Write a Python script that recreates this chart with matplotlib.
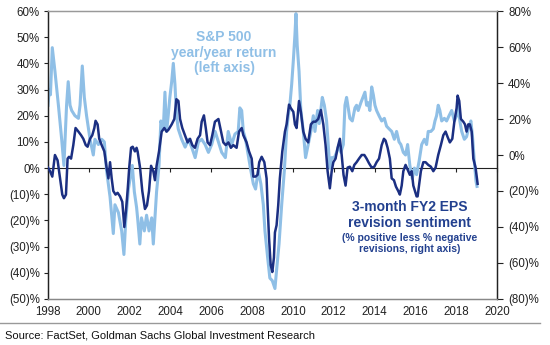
import numpy as np
import matplotlib
matplotlib.use('Agg')
import matplotlib.pyplot as plt
from matplotlib.ticker import FuncFormatter

plt.rcParams['font.family'] = ['Liberation Sans', 'DejaVu Sans']

# S&P 500 year/year return, left axis (%)
sp_years = [1998.00, 1998.06, 1998.12, 1998.21, 1998.34, 1998.51, 1998.67, 1998.78, 1998.91, 1998.99,
            1999.08, 1999.16, 1999.32, 1999.49, 1999.57, 1999.68, 1999.78, 1999.89, 2000.06, 2000.22,
            2000.30, 2000.47, 2000.63, 2000.76, 2000.87, 2001.04, 2001.20, 2001.28, 2001.45, 2001.61,
            2001.72, 2001.81, 2001.94, 2002.13, 2002.23, 2002.34, 2002.39, 2002.50, 2002.58, 2002.72,
            2002.83, 2002.95, 2003.08, 2003.16, 2003.24, 2003.32, 2003.44, 2003.53, 2003.65, 2003.73,
            2003.81, 2003.89, 2003.97, 2004.06, 2004.14, 2004.22, 2004.30, 2004.38, 2004.55, 2004.72,
            2004.88, 2005.04, 2005.21, 2005.37, 2005.53, 2005.70, 2005.86, 2006.02, 2006.19, 2006.35,
            2006.51, 2006.69, 2006.83, 2007.00, 2007.16, 2007.32, 2007.40, 2007.49, 2007.57, 2007.68,
            2007.81, 2007.94, 2008.06, 2008.17, 2008.30, 2008.43, 2008.55, 2008.63, 2008.76, 2008.87,
            2008.99, 2009.12, 2009.20, 2009.32, 2009.45, 2009.58, 2009.69, 2009.77, 2009.85, 2009.94,
            2010.02, 2010.10, 2010.15, 2010.21, 2010.30, 2010.39, 2010.51, 2010.62, 2010.75, 2010.88,
            2011.00, 2011.08, 2011.21, 2011.29, 2011.44, 2011.54, 2011.65, 2011.73, 2011.81, 2011.90,
            2012.03, 2012.14, 2012.26, 2012.35, 2012.47, 2012.55, 2012.63, 2012.71, 2012.79, 2012.91,
            2013.04, 2013.12, 2013.20, 2013.33, 2013.53, 2013.61, 2013.69, 2013.77, 2013.86, 2013.94,
            2014.02, 2014.10, 2014.22, 2014.35, 2014.48, 2014.59, 2014.71, 2014.84, 2014.97, 2015.08,
            2015.20, 2015.29, 2015.41, 2015.52, 2015.62, 2015.73, 2015.85, 2015.95, 2016.06, 2016.18,
            2016.31, 2016.44, 2016.55, 2016.63, 2016.76, 2016.88, 2016.96, 2017.04, 2017.12, 2017.20,
            2017.29, 2017.42, 2017.53, 2017.65, 2017.78, 2017.91, 2018.02, 2018.10, 2018.18, 2018.27,
            2018.40, 2018.51, 2018.63, 2018.72, 2018.80, 2018.89, 2018.97, 2019.02]
sp_values = [24, 30, 28, 46, 37, 24, 11, 1, 24, 33,
             24, 22, 20, 19, 24, 39, 27, 20, 11, 5,
             11, 9, 11, 10, -1, -11, -25, -14, -17, -24,
             -33, -20, -8, 1, -9, -15, -19, -29, -19, -24,
             -18, -24, -19, -29, -19, -9, 1, 18, 15, 29,
             14, 20, 27, 33, 40, 32, 20, 15, 11, 8,
             11, 8, 4, 10, 11, 9, 6, 9, 14, 10,
             6, 4, 14, 9, 13, 14, 23, 22, 14, 11,
             5, -1, -6, -8, -1, -6, -14, -24, -34, -42,
             -43, -46, -39, -29, -14, -1, 14, 20, 24, 32,
             41, 51, 59, 47, 37, 22, 14, 4, 9, 14,
             20, 14, 22, 17, 27, 24, 18, 9, 0, 4,
             4, 6, 9, 6, 9, 24, 27, 23, 19, 18,
             23, 24, 22, 25, 29, 24, 25, 22, 31, 28,
             24, 22, 20, 18, 19, 16, 15, 14, 11, 14,
             10, 9, 6, 5, 9, 1, -4, 0, -2.5, 2.5,
             9, 11, 9, 14, 14, 15, 18, 20, 24, 22,
             18, 19, 18, 20, 22, 18, 20, 24, 18, 14,
             11, 12, 16, 18, 12, 2.5, -5, -7]

# 3-month FY2 EPS revision sentiment, right axis (%)
eps_years = [1998.00, 1998.10, 1998.21, 1998.34, 1998.47, 1998.59, 1998.70, 1998.78, 1998.88, 1998.96,
             1999.03, 1999.13, 1999.24, 1999.35, 1999.49, 1999.62, 1999.73, 1999.85, 1999.94, 2000.06,
             2000.17, 2000.27, 2000.33, 2000.43, 2000.51, 2000.63, 2000.76, 2000.87, 2000.96, 2001.04,
             2001.12, 2001.20, 2001.31, 2001.41, 2001.53, 2001.64, 2001.74, 2001.82, 2001.90, 2001.98,
             2002.07, 2002.15, 2002.26, 2002.34, 2002.39, 2002.51, 2002.62, 2002.75, 2002.85, 2002.95,
             2003.05, 2003.16, 2003.24, 2003.32, 2003.44, 2003.57, 2003.70, 2003.81, 2003.90, 2004.06,
             2004.19, 2004.29, 2004.39, 2004.47, 2004.58, 2004.71, 2004.84, 2004.96, 2005.07, 2005.20,
             2005.33, 2005.45, 2005.53, 2005.64, 2005.73, 2005.82, 2005.94, 2006.05, 2006.18, 2006.35,
             2006.48, 2006.59, 2006.71, 2006.84, 2006.96, 2007.08, 2007.24, 2007.36, 2007.49, 2007.57,
             2007.73, 2007.85, 2007.98, 2008.06, 2008.17, 2008.27, 2008.35, 2008.47, 2008.60, 2008.71,
             2008.76, 2008.83, 2008.91, 2008.99, 2009.07, 2009.12, 2009.20, 2009.28, 2009.36, 2009.48,
             2009.61, 2009.69, 2009.81, 2009.90, 2010.02, 2010.10, 2010.18, 2010.30, 2010.39, 2010.51,
             2010.62, 2010.75, 2010.88, 2011.00, 2011.11, 2011.24, 2011.37, 2011.49, 2011.60, 2011.70,
             2011.81, 2011.90, 2011.98, 2012.09, 2012.19, 2012.30, 2012.39, 2012.48, 2012.58, 2012.68,
             2012.79, 2012.91, 2013.01, 2013.12, 2013.24, 2013.37, 2013.50, 2013.61, 2013.73, 2013.86,
             2013.99, 2014.10, 2014.22, 2014.35, 2014.46, 2014.54, 2014.64, 2014.75, 2014.84, 2014.95,
             2015.05, 2015.16, 2015.24, 2015.33, 2015.41, 2015.52, 2015.65, 2015.73, 2015.82, 2015.90,
             2015.98, 2016.06, 2016.11, 2016.18, 2016.27, 2016.39, 2016.50, 2016.63, 2016.76, 2016.88,
             2016.99, 2017.12, 2017.25, 2017.37, 2017.48, 2017.58, 2017.69, 2017.81, 2017.91, 2018.02,
             2018.07, 2018.15, 2018.23, 2018.35, 2018.43, 2018.51, 2018.59, 2018.67, 2018.76, 2018.84,
             2018.95, 2019.05]
eps_values = [-7, -9, -12, 0, -3, -13, -22, -24, -22, -2,
              -1, -2, 5.5, 15, 13, 11, 9, 5.5, 4.6, 9,
              11, 15, 19, 17, 9, 5.5, 2, -7, -13, -4,
              -13, -20, -22, -21, -23, -26, -40, -31, -20, -7,
              4, 4.6, 2, 4, 2, -7, -20, -30, -28, -20,
              -6, -9, -14, -6, 2, 13, 15, 13, 14, 17,
              20, 31, 30, 20, 15, 11, 7, 9, 5.5, 4,
              9, 11, 18.5, 22, 15, 7, 5.5, 11, 18.5, 20,
              13, 7, 5.5, 7, 4, 5.5, 4, 13, 15, 11,
              7, 2, -2, -12, -12, -11, -4, -1, -4, -13,
              -28, -46, -61, -65, -57, -43, -39, -28, -13, 2,
              13, 17, 28, 26, 24, 17, 15, 30, 24, 13,
              9, 7, 17, 18.5, 18.5, 20, 25, 17, 5.5, -9,
              -18.5, -9, -4, -2, 4, 9, 0, -11, -17, -7,
              -6.5, -9, -5.5, -4, -2, 0, 0, -2, -4.6, -7,
              -6.5, -4, -2, 5.5, 9, 8, 4, -2, -13, -14,
              -17.6, -20, -22, -17, -9, -5.5, -9, -11, -9, -17,
              -20, -23, -23, -17, -9, -4, -4, -5.5, -6.5, -9,
              -7, 0, 5.5, 11, 13, 10, 7, 9, 18.5, 26,
              33, 30, 20, 18.5, 17, 13, 17, 17, 13, -2,
              -7, -16]

year_ticks = list(range(1998, 2021, 2))
left_ticks = list(range(-50, 61, 10))
right_ticks = list(range(-80, 81, 20))

light = '#8fbfe6'
navy = '#1b2f82'
text_navy = '#22408f'


def pct(v, pos):
    v = int(round(v))
    return '(%d)%%' % -v if v < 0 else '%d%%' % v


fig = plt.figure(figsize=(5.5, 3.45), dpi=100)
ax = fig.add_axes([48 / 550, 1 - 299 / 345, 449 / 550, 288 / 345])
ax2 = ax.twinx()

ax.plot(sp_years, sp_values, color=light, lw=2.2, solid_joinstyle='round', zorder=2)
ax2.plot(eps_years, eps_values, color=navy, lw=1.8, solid_joinstyle='round', zorder=3)

ax.set_xlim(1998, 2020)
ax.set_ylim(-50, 60)
ax2.set_ylim(-80, 80)
ax.set_xticks(year_ticks)
ax.set_yticks(left_ticks)
ax2.set_yticks(right_ticks)
ax.yaxis.set_major_formatter(FuncFormatter(pct))
ax2.yaxis.set_major_formatter(FuncFormatter(pct))

ax.tick_params(axis='y', direction='out', length=3, width=0.8, labelsize=8.3, pad=3, colors='#222222')
ax2.tick_params(axis='y', direction='out', length=4, width=0.8, labelsize=8.3, pad=4, colors='#222222')
ax.tick_params(axis='x', length=0, labelsize=8.3, pad=5, colors='#222222')

for a in (ax, ax2):
    a.spines['top'].set_color('#999999')
    a.spines['bottom'].set_color('#888888')
    a.spines['left'].set_color('#222222')
    a.spines['right'].set_color('#222222')
    for s in a.spines.values():
        s.set_linewidth(0.9)

# zero line with year ticks
zero = ax.secondary_xaxis(50 / 110)
zero.set_xticks(year_ticks)
zero.tick_params(direction='out', length=3, width=0.8, labelbottom=False, labeltop=False, colors='#222222')
zero.spines['bottom'].set_color('#222222')
zero.spines['bottom'].set_linewidth(0.8)

ax.text(0.392, 0.911, 'S&P 500', transform=ax.transAxes, ha='center', va='center',
        fontsize=10, fontweight='bold', color=light)
ax.text(0.392, 0.854, 'year/year return', transform=ax.transAxes, ha='center', va='center',
        fontsize=10, fontweight='bold', color=light)
ax.text(0.392, 0.802, '(left axis)', transform=ax.transAxes, ha='center', va='center',
        fontsize=10, fontweight='bold', color=light)

ax.text(0.806, 0.319, '3-month FY2 EPS', transform=ax.transAxes, ha='center', va='center',
        fontsize=10, fontweight='bold', color=text_navy)
ax.text(0.806, 0.264, 'revision sentiment', transform=ax.transAxes, ha='center', va='center',
        fontsize=10, fontweight='bold', color=text_navy)
ax.text(0.806, 0.212, '(% positive less % negative', transform=ax.transAxes, ha='center', va='center',
        fontsize=7.5, fontweight='bold', color=text_navy)
ax.text(0.806, 0.174, 'revisions, right axis)', transform=ax.transAxes, ha='center', va='center',
        fontsize=7.5, fontweight='bold', color=text_navy)

fig.add_artist(plt.Line2D([0.0, 0.982], [1 - 323 / 345, 1 - 323 / 345], color='#999999', lw=1.0))
fig.text(5 / 550, 1 - 336 / 345, 'Source: FactSet, Goldman Sachs Global Investment Research',
         ha='left', va='center', fontsize=8, color='#111111')

fig.savefig('out.png', dpi=100)
